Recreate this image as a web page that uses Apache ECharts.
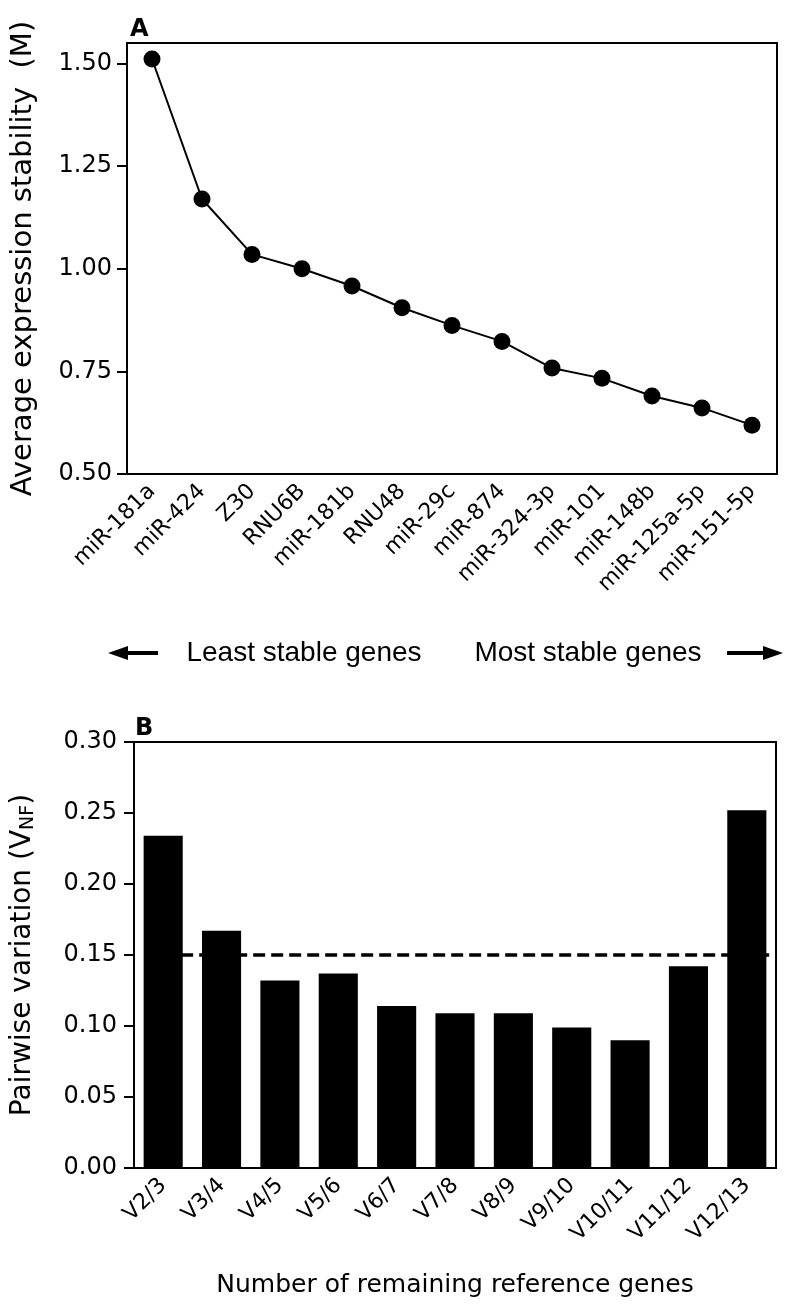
<!DOCTYPE html>
<html><head><meta charset="utf-8">
<script src="https://cdn.jsdelivr.net/npm/echarts@6/dist/echarts.min.js"></script>
<style>html,body{margin:0;padding:0;background:#fff}#c{width:790px;height:1310px}</style>
</head><body><div id="c"></div>
<script>
// ---- Data ----
const genes = ['miR-181a','miR-424','Z30','RNU6B','miR-181b','RNU48','miR-29c','miR-874','miR-324-3p','miR-101','miR-148b','miR-125a-5p','miR-151-5p'];
const stability = [1.511, 1.170, 1.035, 1.000, 0.958, 0.905, 0.862, 0.823, 0.758, 0.733, 0.690, 0.661, 0.619];
const stabilityTicks = [0.50, 0.75, 1.00, 1.25, 1.50];
const pairs = ['V2/3','V3/4','V4/5','V5/6','V6/7','V7/8','V8/9','V9/10','V10/11','V11/12','V12/13'];
const pairwise = [0.234, 0.167, 0.132, 0.137, 0.114, 0.109, 0.109, 0.099, 0.090, 0.142, 0.252];
const pairwiseTicks = [0.00, 0.05, 0.10, 0.15, 0.20, 0.25, 0.30];
const cutoff = 0.15;

const FONT = 'DejaVu Sans';
const black = '#000';
const chart = echarts.init(document.getElementById('c'), null, {renderer:'canvas'});

const axisLineStyle = {lineStyle:{color:black, width:2}};
const tickStyle = {length:10, lineStyle:{color:black, width:2}};

const option = {
  animation:false,
  backgroundColor:'#fff',
  grid:[
    {left:127, top:43, width:650, height:431, show:true, borderColor:black, borderWidth:2, backgroundColor:'transparent'},
    {left:134, top:742, width:642, height:426, show:true, borderColor:black, borderWidth:2, backgroundColor:'transparent'}
  ],
  xAxis:[
    {type:'category', gridIndex:0, data:genes, boundaryGap:true,
     axisLine:axisLineStyle, axisTick:Object.assign({alignWithLabel:true, interval:0}, tickStyle),
     axisLabel:{rotate:45, margin:14, interval:0, fontSize:22, color:black, fontFamily:FONT},
     splitLine:{show:false}},
    {type:'category', gridIndex:1, data:pairs, boundaryGap:true,
     axisLine:axisLineStyle, axisTick:Object.assign({alignWithLabel:true, interval:0}, tickStyle),
     axisLabel:{rotate:45, margin:14, interval:0, fontSize:22, color:black, fontFamily:FONT},
     splitLine:{show:false},
     name:'Number of remaining reference genes', nameLocation:'middle', nameGap:105,
     nameTextStyle:{fontSize:25, color:black, fontFamily:FONT}},
    {type:'value', gridIndex:1, min:0, max:pairs.length, show:false}
  ],
  yAxis:[
    {type:'value', gridIndex:0, min:0.5, max:1.55, interval:0.25,
     axisLine:Object.assign({show:true}, axisLineStyle),
     axisTick:Object.assign({show:true, customValues:stabilityTicks}, tickStyle),
     axisLabel:{customValues:stabilityTicks, formatter:v=>v.toFixed(2), margin:15, fontSize:24, color:black, fontFamily:FONT},
     splitLine:{show:false},
     name:'Average expression stability  (M)', nameLocation:'middle', nameGap:89,
     nameTextStyle:{fontSize:29, color:black, fontFamily:FONT}},
    {type:'value', gridIndex:1, min:0, max:0.30, interval:0.05,
     axisLine:Object.assign({show:true}, axisLineStyle),
     axisTick:Object.assign({show:true}, tickStyle),
     axisLabel:{formatter:v=>v.toFixed(2), margin:17, fontSize:24, color:black, fontFamily:FONT},
     splitLine:{show:false},
     name:'{a|Pairwise variation (V}{s|NF}{a|)}', nameLocation:'middle', nameGap:96,
     nameTextStyle:{color:black, fontFamily:FONT, rich:{
       a:{fontSize:28, color:black, fontFamily:FONT},
       s:{fontSize:19, color:black, fontFamily:FONT, padding:[12,0,0,0]}
     }}}
  ],
  series:[
    {type:'line', xAxisIndex:0, yAxisIndex:0, data:stability,
     symbol:'circle', symbolSize:17, lineStyle:{color:black, width:2}, itemStyle:{color:black}},
    {type:'bar', xAxisIndex:1, yAxisIndex:1, data:pairwise, barCategoryGap:'33%',
     itemStyle:{color:black}},
    {type:'line', xAxisIndex:2, yAxisIndex:1, data:[[0.5, cutoff],[pairs.length, cutoff]],
     symbol:'none', z:5, lineStyle:{color:black, width:3.5, type:[12,6]}}
  ],
  graphic:[
    {type:'text', left:130, top:18, style:{text:'A', fontSize:24, fontWeight:'bold', fontFamily:FONT, fill:black}},
    {type:'text', left:135, top:717, style:{text:'B', fontSize:24, fontWeight:'bold', fontFamily:FONT, fill:black}},
    {type:'text', x:304, y:653, style:{text:'Least stable genes', fontSize:28, fontFamily:'Liberation Sans', fill:black, align:'center', verticalAlign:'middle'}},
    {type:'text', x:588, y:653, style:{text:'Most stable genes', fontSize:28, fontFamily:'Liberation Sans', fill:black, align:'center', verticalAlign:'middle'}},
    {type:'line', shape:{x1:124, y1:653, x2:158, y2:653}, style:{stroke:black, lineWidth:4}},
    {type:'polygon', shape:{points:[[108,653],[128,646],[128,660]]}, style:{fill:black}},
    {type:'line', shape:{x1:727, y1:653, x2:766, y2:653}, style:{stroke:black, lineWidth:4}},
    {type:'polygon', shape:{points:[[783,653],[763,646],[763,660]]}, style:{fill:black}}
  ]
};
chart.setOption(option);
</script>
</body></html>
